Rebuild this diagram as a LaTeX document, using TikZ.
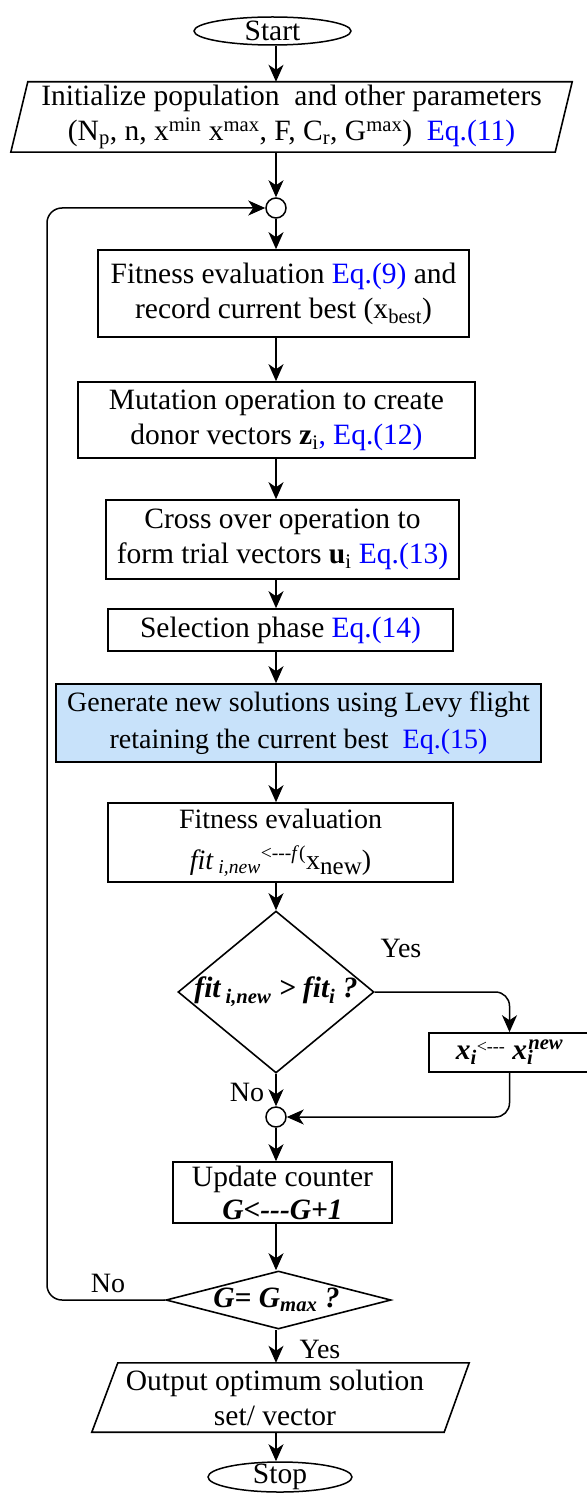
\documentclass[tikz,border=0pt]{standalone}
\usepackage{fontspec}
\setmainfont{Liberation Serif}
\usetikzlibrary{arrows.meta,shapes.geometric,calc}
\definecolor{levyblue}{RGB}{200,226,250}
\newcommand{\eqb}[1]{\textcolor{blue}{#1}}
\begin{document}
\begin{tikzpicture}[x=1pt,y=-1pt,
  font=\fontsize{29.5}{35}\selectfont,
  box/.style={draw, line width=1.6pt, inner sep=0pt, align=center},
  lbl/.style={inner sep=0pt, align=center},
  arr/.style={-{Stealth[length=17pt,width=15pt,inset=5pt]}, line width=1.5pt},
  junction/.style={draw, circle, minimum size=20pt, inner sep=0pt, line width=1.5pt, fill=white},
  oval/.style={draw, ellipse, inner sep=0pt, line width=1.5pt},
  decision/.style={draw, diamond, inner sep=0pt, line width=1.6pt}]
\useasboundingbox (0,0) rectangle (586,1495);
\coordinate (ax) at (276,0);
\coordinate (lx) at (47,0);

% start
\node[oval, minimum width=157pt, minimum height=28pt] (start) at (272.5,31) {};
\node[lbl] (startt) at (start.center) {Start};

% init parallelogram
\node[lbl, minimum width=544pt, minimum height=70pt] (init) at (291.5,117)
  {Initialize population\ \ and other parameters\\
   (N\textsubscript{p}, n, x\textsuperscript{min} x\textsuperscript{max}, F, C\textsubscript{r}, G\textsuperscript{max})\ \ \eqb{Eq.(11)}};
\draw[line width=1.6pt] ($(init.north west)+(8.5,0)$) -- ($(init.north east)+(8.5,0)$)
  -- ($(init.south east)+(-8.5,0)$) -- ($(init.south west)+(-8.5,0)$) -- cycle;

\node[junction] (c1) at (276,208) {};

\node[box, minimum width=371pt, minimum height=87pt] (fit1) at (283.5,293.5)
  {Fitness evaluation \eqb{Eq.(9)} and\\record current best (x\textsubscript{best})};

\node[box, minimum width=397pt, minimum height=76pt] (mut) at (276.5,420)
  {Mutation operation to create\\donor vectors \textbf{z}\textsubscript{i}\eqb{, Eq.(12)}};

\node[box, minimum width=353pt, minimum height=79pt] (cross) at (282.5,539.5)
  {Cross over operation to\\form trial vectors \textbf{u}\textsubscript{i} \eqb{Eq.(13)}};

\node[box, minimum width=345pt, minimum height=42pt] (sel) at (280.5,630)
  {Selection phase \eqb{Eq.(14)}};

\node[box, fill=levyblue, minimum width=485pt, minimum height=78pt,
  font=\fontsize{28}{37}\selectfont] (levy) at (298.5,723)
  {Generate new solutions using Levy flight\\retaining the current best\ \ \eqb{Eq.(15)}};

\node[box, minimum width=345pt, minimum height=79pt,
  font=\fontsize{28}{41}\selectfont] (fit2) at (280.5,842.5)
  {Fitness evaluation\\\textit{fit}\,\textsubscript{\textit{i,new}}\textsuperscript{<-{}-{}-\textit{f}(}x{\fontsize{25}{25}\selectfont\raisebox{-5pt}{new}})};

\node[decision, minimum width=196pt, minimum height=162pt] (d1) at (276,992) {};
\node[lbl] (d1t) at (d1.center) {\bfseries\itshape fit\,\textsubscript{i,new} > fit\textsubscript{i} ?};

\node[box, minimum width=161pt, minimum height=39pt] (xbox) at (509.5,1052.5)
  {\bfseries\itshape x\textsubscript{i}{\normalfont\fontsize{18}{18}\selectfont\raisebox{7pt}{<-{}-{}-}}\ x\textsubscript{i}\kern-5pt\textsuperscript{new}};

\node[junction] (c2) at (276,1117) {};

\node[box, minimum width=219pt, minimum height=61pt,
  font=\fontsize{29.5}{33}\selectfont] (upd) at (282.5,1192.5)
  {Update counter\\{\bfseries\itshape G<-{}-{}-G+1}};

\node[decision, minimum width=225pt, minimum height=58pt] (d2) at (278.5,1300) {};
\node[lbl] (d2t) at (276.5,1300) {\bfseries\itshape G= G\textsubscript{max} ?};

% output parallelogram
\node[lbl, minimum width=351pt, minimum height=69pt] (out) at (275,1397.5)
  {Output optimum solution\\set/ vector};
\draw[line width=1.6pt] ($(out.north west)+(18.5,0)$) -- ($(out.north east)+(18.5,0)$)
  -- ($(out.south east)+(-6.5,0)$) -- ($(out.south west)+(-7.5,0)$) -- cycle;

\node[oval, minimum width=144pt, minimum height=30pt] (stop) at (280,1477) {};
\node[lbl] (stopt) at (stop.center) {Stop};

% labels
\begin{scope}[every node/.style={lbl, font=\fontsize{28}{28}\selectfont}]
\node (yes1) at (401,948) {Yes};
\node (no1) at (247,1092) {No};
\node (no2) at (108,1283) {No};
\node (yes2) at (320,1349) {Yes};
\end{scope}

% connectors
\draw[arr] (start.south -| ax) -- (init.north -| ax);
\draw[arr] (init.south -| ax) -- (c1.north);
\draw[arr] (c1.south) -- (fit1.north -| ax);
\draw[arr] (fit1.south -| ax) -- (mut.north -| ax);
\draw[arr] (mut.south -| ax) -- (cross.north -| ax);
\draw[arr] (cross.south -| ax) -- (sel.north -| ax);
\draw[arr] (sel.south -| ax) -- (levy.north -| ax);
\draw[arr] (levy.south -| ax) -- (fit2.north -| ax);
\draw[arr] (fit2.south -| ax) -- (d1.north);
\draw[arr, rounded corners=14pt] (d1.east) -| (xbox.north);
\draw[arr] (d1.south) -- (c2.north);
\draw[arr, rounded corners=14pt] (xbox.south) |- (c2.east);
\draw[arr] (c2.south) -- (upd.north -| ax);
\draw[arr] (upd.south -| ax) -- (d2.north -| ax);
\draw[arr] (d2.south -| ax) -- (out.north -| ax);
\draw[arr] (out.south -| ax) -- (stop.north -| ax);
\draw[arr, rounded corners=15pt] (d2.west) -- (d2.west -| lx) -- (c1.west -| lx) -- (c1.west);
\end{tikzpicture}
\end{document}
